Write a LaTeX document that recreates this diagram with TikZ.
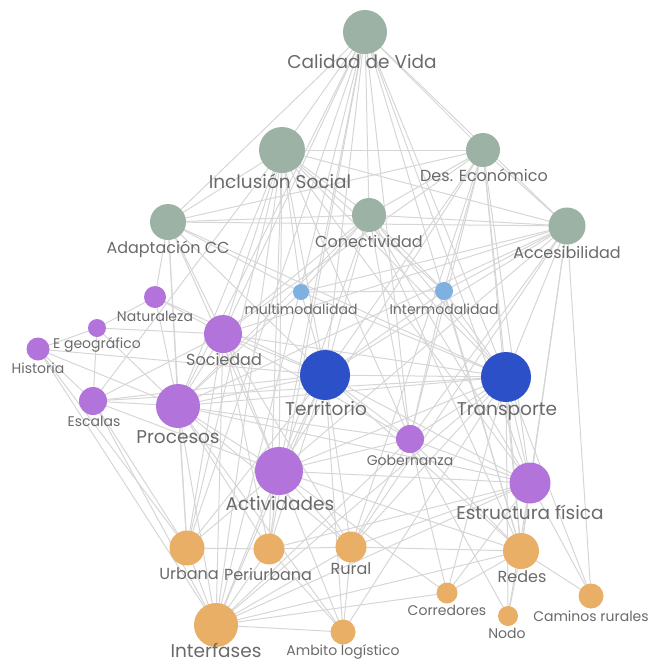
\documentclass[tikz,border=0pt]{standalone}
\usepackage{fontspec}
\setmainfont{Poppins}
\usetikzlibrary{backgrounds}
\definecolor{cgreen}{HTML}{9CB2A5}
\definecolor{cblue}{HTML}{2B50C8}
\definecolor{clblue}{HTML}{7EB0E2}
\definecolor{cpurple}{HTML}{B273DA}
\definecolor{corange}{HTML}{E9AF66}
\definecolor{cedge}{HTML}{D6D6D6}
\definecolor{ctext}{HTML}{6A6A6A}
\tikzset{
  dot/.style={circle, inner sep=0pt, draw=none},
  big/.style={text=ctext, font=\fontsize{18.5}{19}\selectfont, inner sep=0pt},
  mid/.style={text=ctext, font=\fontsize{16}{17}\selectfont, inner sep=0pt},
  small/.style={text=ctext, font=\fontsize{14}{15}\selectfont, inner sep=0pt},
  edge/.style={draw=cedge, line width=1pt}
}
\begin{document}
\begin{tikzpicture}[x=1pt,y=-1pt]
\useasboundingbox (0,0) rectangle (652,664);
% circles
\node[dot, fill=cgreen, minimum size=44] (cv) at (365,32) {};
\node[dot, fill=cgreen, minimum size=46] (is) at (282,150) {};
\node[dot, fill=cgreen, minimum size=34] (de) at (483,150) {};
\node[dot, fill=cgreen, minimum size=36] (ad) at (168,222) {};
\node[dot, fill=cgreen, minimum size=34] (co) at (369,215) {};
\node[dot, fill=cgreen, minimum size=37] (ac) at (567,226) {};
\node[dot, fill=clblue, minimum size=16] (mm) at (301,292) {};
\node[dot, fill=clblue, minimum size=18] (im) at (444,291) {};
\node[dot, fill=cpurple, minimum size=22] (na) at (155,297) {};
\node[dot, fill=cpurple, minimum size=18] (eg) at (97,328) {};
\node[dot, fill=cpurple, minimum size=23] (hi) at (38,349) {};
\node[dot, fill=cpurple, minimum size=38] (so) at (223,334) {};
\node[dot, fill=cblue, minimum size=50] (te) at (325,375) {};
\node[dot, fill=cblue, minimum size=50] (tr) at (506,377) {};
\node[dot, fill=cpurple, minimum size=28] (es) at (93,401) {};
\node[dot, fill=cpurple, minimum size=44] (pr) at (178,406) {};
\node[dot, fill=cpurple, minimum size=28] (go) at (410,439) {};
\node[dot, fill=cpurple, minimum size=48] (act) at (279,471) {};
\node[dot, fill=cpurple, minimum size=41] (ef) at (530,483) {};
\node[dot, fill=corange, minimum size=35] (ur) at (187,548) {};
\node[dot, fill=corange, minimum size=31] (pe) at (269,549) {};
\node[dot, fill=corange, minimum size=31] (ru) at (351,547) {};
\node[dot, fill=corange, minimum size=36] (re) at (521,551) {};
\node[dot, fill=corange, minimum size=21] (cor) at (447,593) {};
\node[dot, fill=corange, minimum size=25] (cam) at (591,596) {};
\node[dot, fill=corange, minimum size=20] (no) at (508,616) {};
\node[dot, fill=corange, minimum size=44] (inf) at (216,625) {};
\node[dot, fill=corange, minimum size=25] (al) at (343,632) {};
% labels
\node[big] (lcv) at (362,62) {Calidad de Vida};
\node[big] (lis) at (280,181) {Inclusión Social};
\node[mid] (lde) at (484,175) {Des. Económico};
\node[mid] (lad) at (168,249) {Adaptación CC};
\node[mid] (lco) at (369,241) {Conectividad};
\node[mid] (lac) at (567,252) {Accesibilidad};
\node[small] (lmm) at (301,309) {multimodalidad};
\node[small] (lim) at (444,309) {Intermodalidad};
\node[small] (lna) at (155,316) {Naturaleza};
\node[small] (leg) at (97,345) {E geográfico};
\node[small] (lhi) at (38,368) {Historia};
\node[mid] (lso) at (224,359) {Sociedad};
\node[big] (lte) at (326,409) {Territorio};
\node[big] (ltr) at (507,411) {Transporte};
\node[small] (les) at (94,421) {Escalas};
\node[big] (lpr) at (178,437) {Procesos};
\node[small] (lgo) at (410,460) {Gobernanza};
\node[big] (lact) at (280,504) {Actividades};
\node[big] (lef) at (530,512) {Estructura física};
\node[mid] (lur) at (189,574) {Urbana};
\node[mid] (lpe) at (268,574) {Periurbana};
\node[mid] (lru) at (351,569) {Rural};
\node[mid] (lre) at (522,577) {Redes};
\node[small] (lcor) at (447,610) {Corredores};
\node[small] (lcam) at (591,616) {Caminos rurales};
\node[small] (lno) at (507,633) {Nodo};
\node[big] (linf) at (216,651) {Interfases};
\node[small] (lal) at (343,652) {Ambito logístico};
% edges
\begin{scope}[on background layer]
\foreach \a/\b in {cv/is,cv/de,cv/ad,cv/co,cv/ac,cv/so,cv/pr,cv/te,cv/tr,cv/act,cv/go,cv/ef,cv/re,cv/ur,cv/pe,cv/inf,
 is/ad,is/de,is/co,is/ac,is/so,is/pr,is/te,is/tr,is/act,is/ur,is/pe,is/inf,is/go,is/ef,is/es,is/mm,is/im,
 de/co,de/ac,de/ad,de/te,de/tr,de/act,de/ef,de/re,de/ru,de/go,de/im,de/so,
 ad/co,ad/ac,ad/so,ad/pr,ad/na,ad/te,ad/act,ad/tr,ad/mm,ad/ur,
 co/ac,co/te,co/tr,co/mm,co/im,co/so,co/pr,co/act,co/ef,co/re,co/go,
 ac/tr,ac/te,ac/ef,ac/re,ac/cam,ac/mm,ac/im,ac/so,ac/pr,ac/act,ac/go,ac/ru,
 mm/te,mm/tr,mm/im,mm/pr,im/tr,im/te,im/re,im/go,
 na/so,na/pr,na/eg,na/te,eg/so,eg/pr,eg/hi,eg/es,hi/pr,hi/es,hi/ur,hi/inf,hi/te,
 so/pr,so/te,so/tr,so/act,so/go,so/es,so/ur,so/pe,so/ru,so/inf,
 te/tr,te/pr,te/act,te/go,te/ef,te/ur,te/pe,te/ru,te/re,te/inf,te/al,te/es,
 tr/pr,tr/act,tr/go,tr/ef,tr/re,tr/cor,tr/no,tr/cam,tr/ru,tr/inf,tr/al,tr/es,
 es/pr,es/ur,es/act,es/inf,
 pr/act,pr/go,pr/ur,pr/pe,pr/ru,pr/inf,pr/ef,pr/al,
 go/act,go/ef,go/re,go/ru,go/cor,go/no,go/inf,
 act/ef,act/ur,act/pe,act/ru,act/re,act/inf,act/al,act/cor,
 ef/re,ef/cam,ef/no,ef/cor,ef/ru,ef/inf,ef/pe,
 ur/pe,ur/inf,pe/inf,pe/al,pe/ru,ru/al,ru/inf,ru/re,
 re/no,re/cam,re/cor,re/inf,cor/inf,al/inf}
 {\draw[edge] (\a.center) -- (\b.center);}
\end{scope}
\end{tikzpicture}
\end{document}
